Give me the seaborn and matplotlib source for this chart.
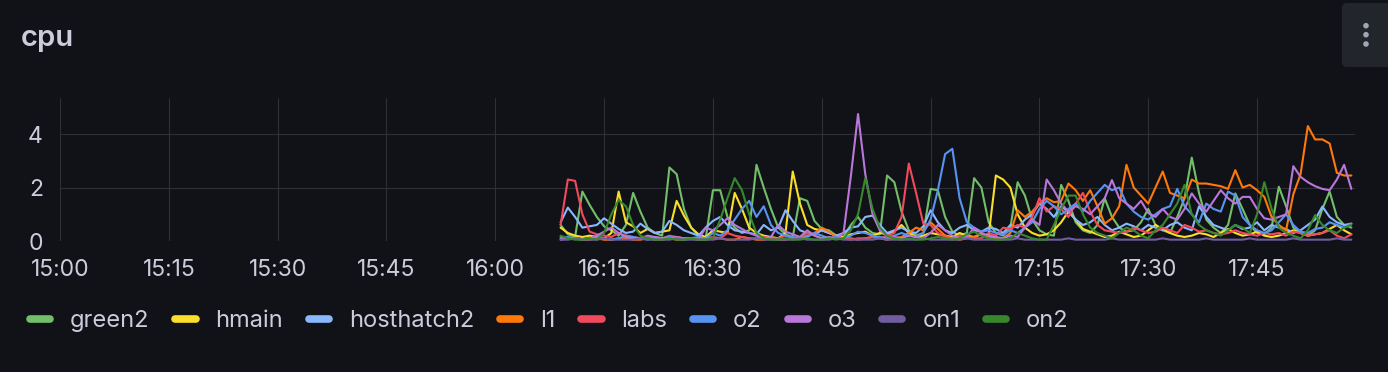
import pandas as pd
import numpy as np
import matplotlib
import matplotlib.pyplot as plt
import matplotlib.dates as mdates
from matplotlib.lines import Line2D
from matplotlib.patches import FancyBboxPatch, Circle
from matplotlib.transforms import IdentityTransform
import seaborn as sns

# one sample per minute, 16:09 -> 17:58
start_time = "2024-01-01 16:09"
n_points = 110

series_names = ["green2", "hmain", "hosthatch2", "l1", "labs", "o2", "o3", "on1", "on2"]
series_colors = ["#73BF69", "#FADE2A", "#8AB8FF", "#FF780A", "#F2495C",
                 "#5794F2", "#B877D9", "#705DA0", "#37872D"]

green2 = [0.6, 0.25, 0.15, 1.85, 1.35, 0.9, 0.55, 0.4, 0.2, 0.6,
          1.8, 1.1, 0.5, 0.3, 0.2, 2.75, 2.5, 1.2, 0.5, 0.2,
          0.1, 1.9, 1.9, 0.9, 0.5, 0.3, 0.4, 2.85, 2.0, 1.2,
          0.5, 0.25, 0.15, 1.6, 1.5, 0.75, 0.45, 0.4, 0.2, 0.15,
          0.6, 0.9, 0.5, 0.3, 0.25, 2.45, 2.2, 1.1, 0.4, 0.2,
          0.3, 1.95, 1.9, 0.9, 0.35, 0.2, 0.3, 2.35, 2.0, 0.7,
          0.3, 0.2, 0.5, 2.2, 1.7, 0.8, 0.4, 0.25, 0.2, 2.1,
          1.5, 0.7, 0.4, 0.3, 0.6, 1.6, 0.9, 0.5, 0.35, 0.4,
          0.7, 1.2, 0.6, 0.4, 0.3, 0.9, 1.6, 3.12, 1.8, 0.8,
          0.5, 0.3, 0.6, 1.78, 1.2, 0.6, 0.3, 0.25, 0.5, 2.03,
          1.3, 0.5, 0.3, 0.2, 0.4, 1.2, 1.85, 0.9, 0.6, 0.5]

hmain = [0.5, 0.3, 0.2, 0.15, 0.2, 0.15, 0.1, 0.3, 1.85, 0.7,
         0.55, 0.3, 0.45, 0.3, 0.35, 0.4, 1.5, 0.95, 0.5, 0.25,
         0.15, 0.4, 0.35, 0.3, 1.8, 1.2, 0.5, 0.3, 0.2, 0.15,
         0.1, 0.3, 2.6, 1.4, 0.6, 0.45, 0.4, 0.3, 0.2, 0.15,
         0.25, 0.3, 0.35, 0.2, 0.3, 0.25, 0.35, 0.6, 0.3, 0.15,
         0.2, 0.3, 0.25, 0.2, 0.15, 0.3, 0.2, 0.15, 0.25, 0.2,
         2.45, 2.3, 2.0, 1.0, 0.5, 0.3, 0.2, 0.25, 0.4, 0.7,
         1.1, 0.8, 0.45, 0.35, 0.25, 0.15, 0.2, 0.35, 0.25, 0.15,
         0.2, 0.4, 0.6, 0.45, 0.3, 0.2, 0.15, 0.2, 0.3, 0.25,
         0.15, 0.3, 0.45, 0.3, 0.2, 0.25, 0.35, 0.2, 0.15, 0.2,
         0.3, 0.4, 0.3, 0.2, 0.25, 0.3, 0.45, 0.6, 0.4, 0.25]

hosthatch2 = [0.7, 1.25, 0.9, 0.5, 0.55, 0.6, 0.85, 0.65, 0.45, 0.3,
              0.35, 0.65, 0.45, 0.3, 0.35, 0.75, 0.6, 0.4, 0.3, 0.2,
              0.5, 0.75, 0.9, 0.6, 0.4, 0.35, 0.3, 0.25, 0.6, 0.4,
              0.5, 1.15, 0.75, 0.4, 0.3, 0.25, 0.4, 0.3, 0.2, 0.3,
              0.5, 0.55, 0.9, 0.95, 0.6, 0.3, 0.4, 0.5, 0.35, 0.3,
              0.55, 1.15, 0.7, 0.4, 0.3, 0.5, 0.6, 0.4, 0.35, 0.5,
              0.45, 0.3, 0.6, 0.5, 0.8, 1.0, 1.4, 1.2, 0.9, 1.3,
              1.1, 0.8, 0.6, 0.7, 0.9, 0.6, 0.4, 0.5, 0.65, 0.55,
              0.4, 0.6, 0.5, 0.4, 0.6, 0.7, 0.5, 0.4, 1.3, 0.9,
              0.6, 0.5, 0.4, 0.6, 0.45, 0.5, 0.7, 0.4, 0.6, 0.5,
              0.45, 0.3, 0.4, 0.6, 0.8, 1.29, 0.9, 0.7, 0.6, 0.65]

l1 = [0.15, 0.1, 0.1, 0.05, 0.05, 0.1, 0.05, 0.05, 0.1, 0.1,
      0.05, 0.05, 0.1, 0.05, 0.05, 0.1, 0.05, 0.05, 0.1, 0.05,
      0.05, 0.1, 0.1, 0.05, 0.05, 0.15, 0.1, 0.05, 0.05, 0.1,
      0.05, 0.05, 0.1, 0.1, 0.2, 0.3, 0.5, 0.35, 0.15, 0.1,
      0.1, 0.05, 0.1, 0.15, 0.1, 0.05, 0.1, 0.15, 0.3, 0.5,
      0.4, 0.7, 0.45, 0.2, 0.1, 0.05, 0.1, 0.15, 0.3, 0.15,
      0.1, 0.1, 0.3, 1.15, 0.9, 1.1, 1.4, 1.6, 1.45, 1.5,
      2.15, 1.9, 1.5, 1.9, 1.3, 0.65, 0.85, 1.3, 2.85, 2.0,
      1.7, 1.4, 2.0, 2.6, 1.8, 1.7, 1.6, 2.3, 2.15, 2.15,
      2.1, 2.05, 1.95, 2.65, 2.0, 2.1, 1.9, 1.65, 0.9, 0.6,
      0.4, 1.75, 2.5, 4.3, 3.8, 3.8, 3.65, 2.55, 2.45, 2.45]

labs = [0.6, 2.3, 2.25, 1.0, 0.35, 0.25, 0.2, 0.15, 0.3, 0.2,
        0.15, 0.1, 0.1, 0.15, 0.1, 0.2, 0.15, 0.1, 0.1, 0.05,
        0.1, 0.15, 0.1, 0.3, 0.2, 0.15, 0.1, 0.1, 0.15, 0.1,
        0.1, 0.2, 0.1, 0.15, 0.3, 0.2, 0.1, 0.1, 0.15, 0.1,
        0.05, 0.1, 0.1, 0.15, 0.1, 0.2, 0.3, 0.9, 2.9, 1.8,
        0.65, 0.6, 0.3, 0.15, 0.1, 0.2, 0.15, 0.1, 0.1, 0.3,
        0.2, 0.5, 0.45, 0.6, 0.5, 0.9, 1.6, 1.1, 1.3, 1.2,
        0.9, 1.4, 1.8, 1.1, 0.6, 0.4, 0.35, 0.3, 0.35, 0.5,
        0.4, 0.3, 0.35, 0.5, 0.4, 0.3, 0.6, 0.5, 0.35, 0.4,
        0.3, 0.25, 0.3, 0.4, 0.3, 0.25, 0.2, 0.3, 0.25, 0.3,
        0.2, 0.35, 0.3, 0.2, 0.25, 0.3, 0.4, 0.2, 0.1, 0.25]

o2 = [0.1, 0.15, 0.1, 0.05, 0.1, 0.15, 0.1, 0.05, 0.1, 0.2,
      0.15, 0.1, 0.05, 0.1, 0.1, 0.15, 0.1, 0.05, 0.1, 0.15,
      0.1, 0.3, 0.2, 0.4, 0.8, 1.2, 1.5, 0.9, 1.3, 0.6,
      0.3, 0.2, 0.15, 0.1, 0.15, 0.3, 0.2, 0.1, 0.15, 0.1,
      0.2, 0.35, 0.3, 0.2, 0.15, 0.1, 0.2, 0.3, 0.2, 0.15,
      0.3, 0.8, 1.9, 3.25, 3.45, 1.6, 0.7, 0.5, 0.35, 0.4,
      0.3, 0.25, 0.4, 0.3, 0.5, 0.7, 1.2, 1.5, 1.3, 1.0,
      1.2, 1.4, 1.1, 1.5, 1.8, 2.1, 1.9, 2.0, 1.4, 1.1,
      0.9, 0.8, 1.0, 1.2, 1.3, 1.95, 1.3, 1.0, 0.7, 1.4,
      1.2, 1.1, 1.85, 1.7, 0.9, 0.6, 0.4, 0.3, 0.4, 0.7,
      1.0, 0.6, 0.35, 0.3, 0.45, 0.5, 0.7, 0.6, 0.5, 0.65]

o3 = [0.05, 0.1, 0.1, 0.05, 0.1, 0.2, 0.35, 0.5, 0.3, 0.15,
      0.1, 0.1, 0.2, 0.15, 0.1, 0.1, 0.15, 0.1, 0.1, 0.05,
      0.5, 0.4, 0.6, 0.85, 0.6, 0.45, 0.3, 0.2, 0.1, 0.15,
      0.6, 0.35, 0.25, 0.15, 0.4, 0.2, 0.1, 0.15, 0.1, 0.3,
      2.4, 4.75, 2.5, 1.0, 0.4, 0.2, 0.15, 0.1, 0.2, 0.15,
      0.1, 0.3, 0.6, 0.4, 0.2, 0.1, 0.15, 0.5, 0.3, 0.2,
      0.15, 0.1, 0.2, 0.15, 0.5, 0.8, 0.6, 2.3, 1.9, 1.4,
      1.1, 1.3, 1.2, 1.0, 1.3, 1.6, 2.28, 1.6, 1.4, 1.2,
      1.5, 1.05, 0.9, 1.2, 0.9, 0.8, 1.2, 1.78, 1.4, 1.1,
      1.5, 1.9, 1.6, 1.4, 1.65, 1.65, 1.2, 0.85, 0.8, 0.9,
      1.0, 2.8, 2.4, 2.2, 2.05, 1.95, 1.9, 2.3, 2.85, 1.95]

on1 = [0.05, 0.05, 0.1, 0.05, 0.05, 0.05, 0.1, 0.05, 0.05, 0.05,
       0.05, 0.1, 0.05, 0.05, 0.05, 0.05, 0.1, 0.05, 0.05, 0.05,
       0.05, 0.05, 0.1, 0.05, 0.05, 0.05, 0.05, 0.1, 0.05, 0.05,
       0.05, 0.05, 0.05, 0.1, 0.05, 0.05, 0.05, 0.05, 0.1, 0.05,
       0.05, 0.05, 0.05, 0.05, 0.1, 0.05, 0.05, 0.05, 0.05, 0.05,
       0.1, 0.05, 0.05, 0.05, 0.05, 0.05, 0.1, 0.05, 0.05, 0.05,
       0.05, 0.05, 0.05, 0.1, 0.05, 0.05, 0.05, 0.05, 0.05, 0.05,
       0.1, 0.05, 0.05, 0.05, 0.05, 0.05, 0.1, 0.05, 0.05, 0.05,
       0.05, 0.05, 0.05, 0.1, 0.05, 0.05, 0.05, 0.05, 0.05, 0.1,
       0.05, 0.05, 0.05, 0.05, 0.05, 0.1, 0.05, 0.05, 0.05, 0.05,
       0.05, 0.1, 0.05, 0.05, 0.05, 0.05, 0.05, 0.1, 0.05, 0.05]

on2 = [0.2, 0.1, 0.05, 0.05, 0.1, 0.05, 0.3, 1.0, 1.53, 1.3,
       0.6, 0.2, 0.1, 0.05, 0.05, 0.1, 0.05, 0.05, 0.1, 0.05,
       0.05, 0.1, 0.8, 1.6, 2.35, 1.9, 1.0, 0.3, 0.1, 0.05,
       0.05, 0.1, 0.05, 0.05, 0.1, 0.05, 0.05, 0.1, 0.05, 0.1,
       0.4, 1.0, 2.35, 1.2, 0.5, 0.2, 0.1, 0.05, 0.1, 0.05,
       0.05, 0.1, 0.15, 0.1, 0.05, 0.1, 0.25, 0.35, 0.2, 0.1,
       0.05, 0.05, 0.1, 0.3, 0.2, 0.1, 0.05, 0.05, 0.6, 1.2,
       1.7, 1.7, 1.0, 0.5, 0.3, 0.2, 0.1, 0.3, 0.5, 0.4,
       0.2, 0.1, 0.4, 0.6, 1.0, 1.4, 2.1, 1.0, 0.6, 0.4,
       0.3, 0.2, 0.4, 0.6, 0.5, 0.3, 1.0, 2.2, 1.2, 0.5,
       0.3, 0.2, 0.1, 0.4, 0.97, 0.6, 0.4, 0.3, 0.5, 0.6]

BG = "#111217"
GRID = "#2e3035"
TEXT = "#ccccdc"

times = pd.date_range(start_time, periods=n_points, freq="1min")
wide = pd.DataFrame({"time": times, "green2": green2, "hmain": hmain,
                     "hosthatch2": hosthatch2, "l1": l1, "labs": labs,
                     "o2": o2, "o3": o3, "on1": on1, "on2": on2})
df = wide.melt(id_vars="time", var_name="series", value_name="cpu")
palette = dict(zip(series_names, series_colors))

sns.set_style("dark", {"axes.facecolor": BG, "figure.facecolor": BG})
plt.rcParams["font.family"] = ["Inter", "DejaVu Sans"]

fig = plt.figure(figsize=(13.88, 3.72), dpi=100)
ax = fig.add_axes([60 / 1388, 1 - 241 / 372, 1295 / 1388, 143 / 372])

sns.lineplot(data=df, x="time", y="cpu", hue="series", hue_order=series_names,
             palette=palette, linewidth=1.5, ax=ax, legend=False)

ax.set_xlim(pd.Timestamp("2024-01-01 15:00"), pd.Timestamp("2024-01-01 17:58:30"))
ax.set_ylim(0, 5.35)
ax.set_yticks([0, 2, 4])
ax.xaxis.set_major_locator(mdates.MinuteLocator(byminute=[0, 15, 30, 45]))
ax.xaxis.set_major_formatter(mdates.DateFormatter("%H:%M"))
ax.set_xlabel("")
ax.set_ylabel("")
ax.grid(True, color=GRID, linewidth=0.8)
for s in ax.spines.values():
    s.set_visible(False)
ax.tick_params(axis="both", length=4.3, width=0.8, color=GRID,
               labelcolor=TEXT, labelsize=16.5)
ax.tick_params(axis="y", pad=8)
ax.tick_params(axis="x", pad=9)

# panel title
fig.text(21 / 1388, 1 - 38 / 372, "cpu", fontsize=21, fontweight="semibold",
         color=TEXT, va="center", ha="left")

# panel menu button
btn = FancyBboxPatch((1342, 372 - 67), 60, 64,
                     boxstyle="round,pad=0,rounding_size=5",
                     transform=IdentityTransform(), facecolor="#22252b",
                     edgecolor="none")
fig.add_artist(btn)
for yy in [25.7, 34.7, 44.0]:
    fig.add_artist(Circle((1366, 372 - yy), 2.8, transform=IdentityTransform(),
                          facecolor="#9fa6b4", edgecolor="none"))

# legend
handles = [Line2D([0], [0], color=c, linewidth=5.5, solid_capstyle="round")
           for c in series_colors]
leg = fig.legend(handles, series_names, loc="center left",
                 bbox_to_anchor=(30 / 1388, 1 - 321 / 372), ncol=9,
                 frameon=False, fontsize=17, handlelength=0.86,
                 handletextpad=0.84, columnspacing=1.09,
                 borderaxespad=0, borderpad=0)
for t in leg.get_texts():
    t.set_color(TEXT)

fig.savefig("out.png", dpi=100, facecolor=BG)
